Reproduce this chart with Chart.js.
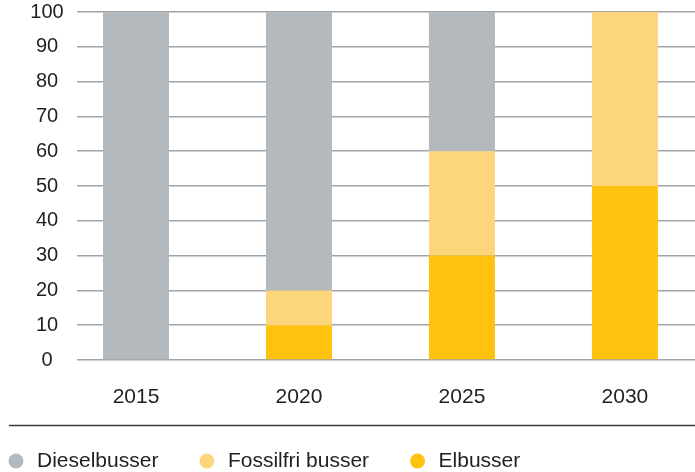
<!DOCTYPE html>
<html>
<head>
<meta charset="utf-8">
<title>Bussar</title>
<script src="https://cdn.jsdelivr.net/npm/chart.js@4/dist/chart.umd.min.js"></script>
<style>
  html, body { margin: 0; padding: 0; background: #fff; }
  #wrap { width: 695px; height: 472px; }
</style>
</head>
<body>
<div id="wrap"><canvas id="chart-bussar" width="695" height="472"></canvas></div>
<script>
// data (percent of buses)
const years = [2015, 2020, 2025, 2030];
const elbusser = [0, 10, 30, 50];
const fossilfri = [0, 10, 30, 50];
const diesel = [100, 80, 40, 0];
const yTicks = [0, 10, 20, 30, 40, 50, 60, 70, 80, 90, 100];

const FONT = "'Liberation Sans', Arial, Helvetica, sans-serif";
const TEXT = "#231f20";

const toPoints = (vals) => vals.map((v, i) => ({ x: years[i], y: v }));

// thin rule between axis labels and legend
const separator = {
    id: "separator",
    afterDraw(chart) {
        const lg = chart.legend;
        const ctx = chart.ctx;
        const y = lg.top + 13;
        ctx.save();
        ctx.strokeStyle = "#3a3a3a";
        ctx.lineWidth = 1.5;
        ctx.beginPath();
        ctx.moveTo(9, y);
        ctx.lineTo(chart.width, y);
        ctx.stroke();
        ctx.restore();
    },
};

const ctx = document.getElementById("chart-bussar").getContext("2d");
new Chart(ctx, {
    type: "bar",
    data: {
        datasets: [
            { label: "Elbusser", data: toPoints(elbusser), backgroundColor: "#fec20f" },
            { label: "Fossilfri busser", data: toPoints(fossilfri), backgroundColor: "#fdd67c" },
            { label: "Dieselbusser", data: toPoints(diesel), backgroundColor: "#b3b9bc" },
        ],
    },
    options: {
        responsive: false,
        animation: false,
        categoryPercentage: 1,
        barPercentage: 0.405,
        layout: { padding: { top: 12, left: -32.5, right: 0, bottom: -9.5 } },
        scales: {
            x: {
                type: "linear",
                stacked: true,
                offset: false,
                min: 2013.19,
                max: 2032.15,
                afterBuildTicks: (s) => { s.ticks = years.map((v) => ({ value: v })); },
                afterFit: (s) => { s.height = 52.5; },
                grid: { display: false },
                border: { display: false },
                ticks: {
                    padding: 17,
                    color: TEXT,
                    font: { family: FONT, size: 21 },
                    callback: (v) => String(v),
                },
            },
            y: {
                stacked: true,
                min: 0,
                max: 100,
                afterBuildTicks: (s) => { s.ticks = yTicks.map((v) => ({ value: v })); },
                afterFit: (s) => {
                    s.width = 109.5;
                    s.paddingTop = 0;
                    s.paddingBottom = 0;
                },
                grid: { color: "#a2a4a7", lineWidth: 1.5, drawTicks: false },
                border: { display: false },
                ticks: {
                    padding: 13.3,
                    crossAlign: "center",
                    color: TEXT,
                    font: { family: FONT, size: 20 },
                },
            },
        },
        plugins: {
            legend: {
                position: "bottom",
                align: "start",
                reverse: true,
                labels: {
                    usePointStyle: true,
                    pointStyle: "circle",
                    boxWidth: 22,
                    boxHeight: 10.6,
                    padding: 38,
                    color: TEXT,
                    font: { family: FONT, size: 21 },
                },
            },
            tooltip: { enabled: false },
        },
    },
    plugins: [separator],
});
</script>
</body>
</html>
